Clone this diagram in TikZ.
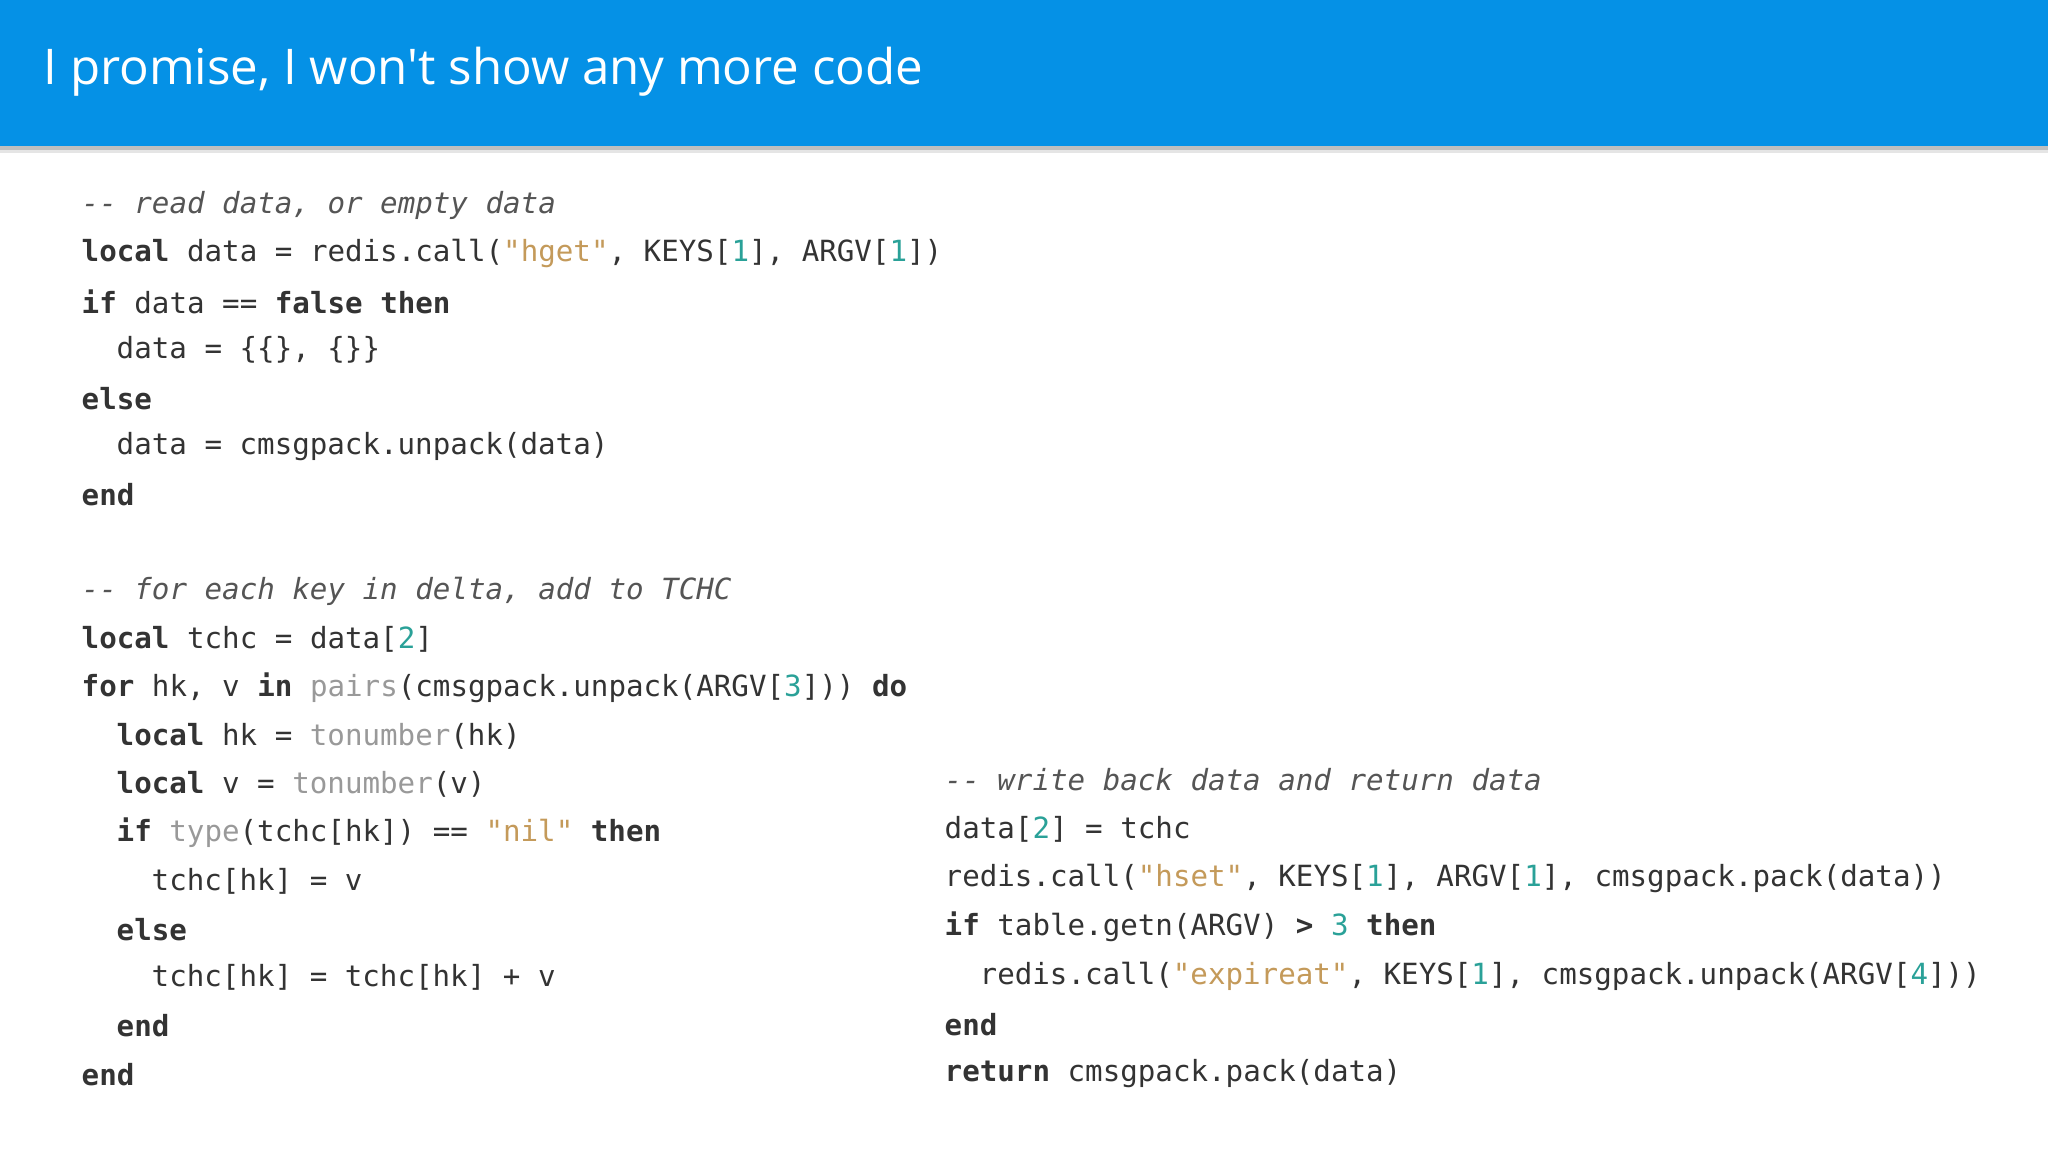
\documentclass[tikz,border=0pt]{standalone}
\usepackage{fontspec}
\newfontfamily\titlefont{Open Sans}
\newfontfamily\codefont{DejaVu Sans Mono}
\definecolor{hdr}{HTML}{0591E6}
\definecolor{txt}{HTML}{333333}
\definecolor{numc}{HTML}{2AA198}
\definecolor{strc}{HTML}{C49A5A}
\definecolor{fnc}{HTML}{999999}
\definecolor{cmc}{HTML}{555555}
\newcommand{\kw}[1]{\textbf{#1}}
\newcommand{\nm}[1]{\textcolor{numc}{#1}}
\newcommand{\st}[1]{\textcolor{strc}{#1}}
\newcommand{\fn}[1]{\textcolor{fnc}{#1}}
\newcommand{\cm}[1]{\textcolor{cmc}{\itshape #1}}
\tikzset{codeline/.style={anchor=west,inner sep=0pt,text=txt,font=\codefont\fontsize{8.3pt}{10pt}\selectfont}}
\begin{document}
\begin{tikzpicture}
\useasboundingbox (0,0) rectangle (20.48,-11.52);
\fill[white] (0,0) rectangle (20.48,-11.52);
\fill[black!25] (0,-1.46) rectangle (20.48,-1.50);
\fill[black!10] (0,-1.50) rectangle (20.48,-1.53);
\fill[hdr] (0,0) rectangle (20.48,-1.46);
\node[anchor=west,inner sep=0pt,text=white,font=\titlefont\fontsize{14pt}{16pt}\selectfont] (title) at (0.43,-0.72) {I promise, I won't show any more code};
% left block
\def\lx{0.81}\def\ind{0.35}
\def\ly#1{-2.05-0.483*#1}
\node[codeline] (l0) at (\lx,{\ly{0}}) {\cm{-- read data, or empty data}};
\node[codeline] (l1) at (\lx,{\ly{1}}) {\kw{local} data = redis.call(\st{"hget"}, KEYS[\nm{1}], ARGV[\nm{1}])};
\node[codeline] (l2) at (\lx,{\ly{2}}) {\kw{if} data == \kw{false} \kw{then}};
\node[codeline] (l3) at (\lx+\ind,{\ly{3}}) {data = \{\{\}, \{\}\}};
\node[codeline] (l4) at (\lx,{\ly{4}}) {\kw{else}};
\node[codeline] (l5) at (\lx+\ind,{\ly{5}}) {data = cmsgpack.unpack(data)};
\node[codeline] (l6) at (\lx,{\ly{6}}) {\kw{end}};
\node[codeline] (l8) at (\lx,{\ly{8}}) {\cm{-- for each key in delta, add to TCHC}};
\node[codeline] (l9) at (\lx,{\ly{9}}) {\kw{local} tchc = data[\nm{2}]};
\node[codeline] (l10) at (\lx,{\ly{10}}) {\kw{for} hk, v \kw{in} \fn{pairs}(cmsgpack.unpack(ARGV[\nm{3}])) \kw{do}};
\node[codeline] (l11) at (\lx+\ind,{\ly{11}}) {\kw{local} hk = \fn{tonumber}(hk)};
\node[codeline] (l12) at (\lx+\ind,{\ly{12}}) {\kw{local} v = \fn{tonumber}(v)};
\node[codeline] (l13) at (\lx+\ind,{\ly{13}}) {\kw{if} \fn{type}(tchc[hk]) == \st{"nil"} \kw{then}};
\node[codeline] (l14) at (\lx+2*\ind,{\ly{14}}) {tchc[hk] = v};
\node[codeline] (l15) at (\lx+\ind,{\ly{15}}) {\kw{else}};
\node[codeline] (l16) at (\lx+2*\ind,{\ly{16}}) {tchc[hk] = tchc[hk] + v};
\node[codeline] (l17) at (\lx+\ind,{\ly{17}}) {\kw{end}};
\node[codeline] (l18) at (\lx,{\ly{18}}) {\kw{end}};
% right block
\def\rx{9.44}
\def\ry#1{-7.80-0.49*#1}
\node[codeline] (r0) at (\rx,{\ry{0}}) {\cm{-- write back data and return data}};
\node[codeline] (r1) at (\rx,{\ry{1}}) {data[\nm{2}] = tchc};
\node[codeline] (r2) at (\rx,{\ry{2}}) {redis.call(\st{"hset"}, KEYS[\nm{1}], ARGV[\nm{1}], cmsgpack.pack(data))};
\node[codeline] (r3) at (\rx,{\ry{3}}) {\kw{if} table.getn(ARGV) \kw{>} \nm{3} \kw{then}};
\node[codeline] (r4) at (\rx+\ind,{\ry{4}}) {redis.call(\st{"expireat"}, KEYS[\nm{1}], cmsgpack.unpack(ARGV[\nm{4}]))};
\node[codeline] (r5) at (\rx,{\ry{5}}) {\kw{end}};
\node[codeline] (r6) at (\rx,{\ry{6}}) {\kw{return} cmsgpack.pack(data)};
\end{tikzpicture}
\end{document}
